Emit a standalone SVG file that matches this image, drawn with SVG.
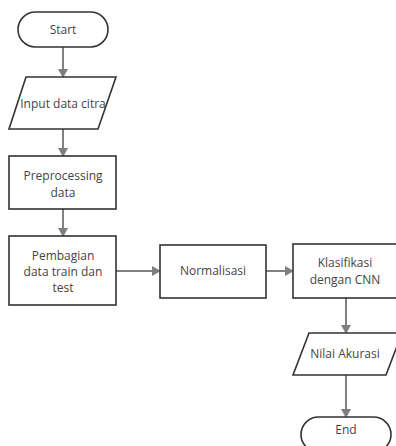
<svg xmlns="http://www.w3.org/2000/svg" width="396" height="446" viewBox="0 0 396 446">
<defs>
<marker id="ah" markerWidth="10" markerHeight="10" refX="8" refY="5" orient="auto" markerUnits="userSpaceOnUse">
<path d="M0,0 L9,5 L0,10 Z" fill="#7f7f7f"/>
</marker>
<style>
.n{fill:#fff;stroke:#333;stroke-width:1.6}
.t{font-family:"Open Sans","Noto Sans",sans-serif;font-size:12px;fill:#444;text-anchor:middle}
.c{stroke:#808080;stroke-width:2;fill:none;marker-end:url(#ah)}
</style>
</defs>
<rect width="396" height="446" fill="#fff"/>
<g id="connectors">
<path class="c" d="M63,47 V77"/>
<path class="c" d="M63,129 V156"/>
<path class="c" d="M63,209 V236"/>
<path class="c" d="M116,271 H160"/>
<path class="c" d="M266,271 H293"/>
<path class="c" d="M346,298 V333"/>
<path class="c" d="M346,375 V417"/>
</g>
<g id="start">
<rect class="n" x="18" y="12" width="90" height="35" rx="17.5"/>
<text class="t" x="63" y="34">Start</text>
</g>
<g id="input">
<polygon class="n" points="26,77 116,77 98,129 9,129"/>
<text class="t" x="63" y="108">Input data citra</text>
</g>
<g id="preprocessing">
<rect class="n" x="9" y="156" width="107" height="53"/>
<text class="t" x="63" y="180">Preprocessing</text>
<text class="t" x="63" y="197">data</text>
</g>
<g id="pembagian">
<rect class="n" x="9" y="236" width="107" height="69"/>
<text class="t" x="63" y="260">Pembagian</text>
<text class="t" x="63" y="276">data train dan</text>
<text class="t" x="63" y="292">test</text>
</g>
<g id="normalisasi">
<rect class="n" x="160" y="245" width="106" height="53"/>
<text class="t" x="213" y="275">Normalisasi</text>
</g>
<g id="klasifikasi">
<rect class="n" x="293" y="244" width="108" height="54"/>
<text class="t" x="345" y="267">Klasifikasi</text>
<text class="t" x="345" y="284">dengan CNN</text>
</g>
<g id="nilai">
<polygon class="n" points="309,333 402,333 386,375 293,375"/>
<text class="t" x="345" y="358">Nilai Akurasi</text>
</g>
<g id="end">
<rect class="n" x="301" y="417" width="90" height="35" rx="17.5"/>
<text class="t" x="346" y="434">End</text>
</g>
</svg>
